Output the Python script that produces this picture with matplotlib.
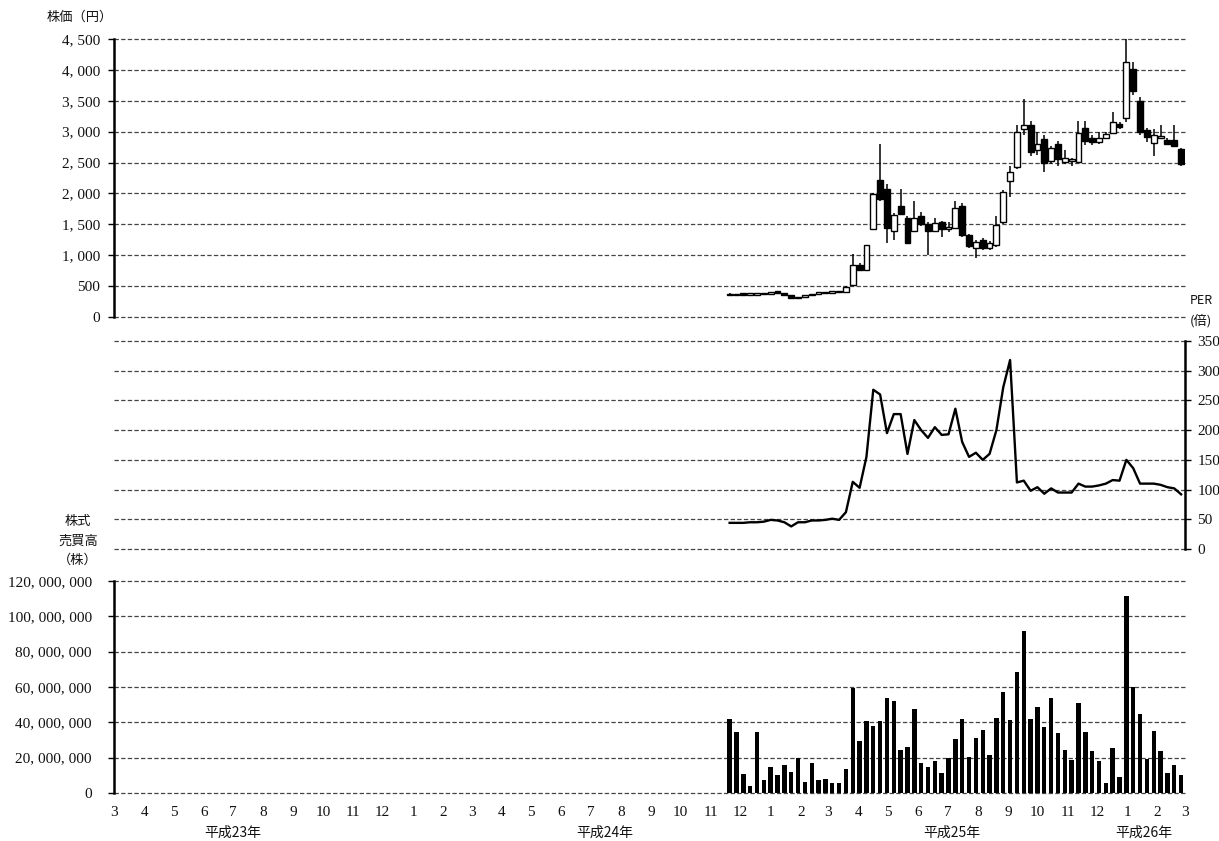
import datetime as dt
import numpy as np
import pandas as pd
import matplotlib
matplotlib.use("Agg")
import matplotlib.pyplot as plt
import matplotlib.dates as mdates
import matplotlib.transforms as mtransforms

# ---------------- data ----------------
weeks = pd.date_range("2012-11-20", periods=67, freq="7D")

open_ = [380, 355, 362, 360, 362, 365, 380, 392, 388, 350, 305, 325, 350, 372, 385, 392, 402, 404,
         512, 835, 755, 1430, 2210, 2073, 1400, 1800, 1595, 1400, 1627, 1508, 1400, 1535, 1430, 1445,
         1800, 1320, 1110, 1250, 1120, 1160, 1535, 2208, 2420, 3050, 3100, 2700, 2880, 2520, 2800,
         2510, 2530, 2510, 3060, 2900, 2840, 2900, 2980, 3130, 3220, 4010, 3500, 3030, 2820, 2900,
         2870, 2860, 2720]
high = [390, 370, 372, 370, 372, 385, 400, 405, 392, 355, 330, 355, 378, 392, 398, 410, 412, 500,
        1013, 870, 1170, 2000, 2800, 2150, 1680, 2073, 1640, 1880, 1700, 1540, 1600, 1560, 1540, 1885,
        1850, 1340, 1240, 1280, 1230, 1627, 2060, 2450, 3100, 3530, 3180, 2990, 2950, 2760, 2850,
        2700, 2580, 3180, 3180, 2950, 2990, 3000, 3313, 3150, 4520, 4130, 3560, 3060, 3050, 3100,
        2900, 3110, 2730]
low = [345, 350, 355, 352, 355, 360, 375, 380, 350, 295, 300, 320, 345, 365, 378, 388, 395, 395,
       500, 740, 740, 1420, 1880, 1190, 1250, 1650, 1180, 1380, 1480, 1000, 1380, 1293, 1380, 1440,
       1300, 1120, 958, 1080, 1090, 1140, 1500, 1947, 2400, 2950, 2600, 2620, 2340, 2480, 2450,
       2480, 2450, 2500, 2780, 2780, 2800, 2880, 2970, 3050, 3150, 3600, 2950, 2840, 2610, 2880,
       2780, 2750, 2450]
close = [350, 362, 360, 362, 365, 380, 392, 388, 360, 305, 325, 350, 372, 385, 392, 402, 405, 485,
         835, 754, 1158, 1997, 1918, 1440, 1650, 1670, 1190, 1600, 1508, 1400, 1520, 1430, 1460, 1760,
         1320, 1142, 1207, 1120, 1190, 1490, 2030, 2340, 3000, 3100, 2670, 2800, 2500, 2740, 2560,
         2580, 2545, 2980, 2850, 2830, 2900, 2960, 3150, 3080, 4120, 3660, 3000, 2920, 2950, 2920,
         2800, 2770, 2480]

per = [44, 44, 44, 45, 45, 46, 49, 48, 45, 38, 45, 45, 48, 48, 49, 51, 49, 62, 113, 103,
       155, 268, 260, 195, 227, 227, 160, 217, 200, 187, 205, 192, 193, 236, 180, 155, 162, 150,
       160, 200, 272, 318, 112, 115, 98, 104, 93, 102, 95, 95, 95, 110, 105, 105, 107, 110, 116,
       115, 150, 136, 110, 110, 110, 108, 104, 102, 92]

volume_m = [41.8, 34.7, 10.8, 3.7, 34.7, 7.4, 14.9, 10.4, 16.0, 11.7, 20.0, 6.1, 16.7, 7.4, 7.8,
            5.6, 5.6, 13.6, 59.6, 29.7, 40.5, 37.7, 40.9, 53.5, 52.2, 24.1, 26.0, 47.4, 17.1, 14.9,
            18.0, 11.1, 20.0, 30.3, 41.8, 20.4, 31.2, 35.7, 21.7, 42.3, 57.2, 41.2, 68.3, 91.9, 41.8,
            48.8, 37.3, 53.5, 33.8, 24.5, 18.9, 50.7, 34.7, 23.6, 18.2, 5.6, 25.6, 9.3, 111.4, 60.0,
            44.6, 19.5, 35.3, 23.8, 11.5, 16.0, 10.0]

month_ticks = pd.date_range("2011-03-01", "2014-03-01", freq="MS")
month_labels = [str(d.month) for d in month_ticks]
year_labels = ["平成23年", "平成24年", "平成25年", "平成26年"]
year_label_dates = ["2011-07-01", "2012-07-15", "2013-07-05", "2014-01-18"]

price_ticks = list(range(0, 4501, 500))
per_ticks = list(range(0, 351, 50))
vol_ticks = list(range(0, 120_000_001, 20_000_000))

# ---------------- style ----------------
JP = ["Noto Sans CJK JP", "DejaVu Sans"]
NUM = ["Liberation Serif", "DejaVu Serif"]
TXT = "#111111"
NUMSIZE = 11
JPSIZE = 9.5
GRID = dict(color="#454545", linestyle=(0, (3.5, 1.8)), linewidth=0.9, clip_on=False)

def fmt(v):
    return "{:,}".format(v).replace(",", ", ")

fig = plt.figure(figsize=(12.19, 8.41), dpi=100)
W, H = 1219, 841
L, R = 114 / W, 1185 / W

def box(top, bottom):
    return [L, 1 - bottom / H, R - L, (bottom - top) / H]

ax1 = fig.add_axes(box(39, 317))
ax2 = fig.add_axes(box(341, 549))
ax3 = fig.add_axes(box(581, 793))

x = mdates.date2num(weeks.to_pydatetime())
xmin = mdates.date2num(dt.datetime(2011, 3, 1))
xmax = mdates.date2num(dt.datetime(2014, 3, 1))

o = np.array(open_, float); c = np.array(close, float)
h = np.array(high, float); lo = np.array(low, float)
up = c >= o

for ax in (ax1, ax2, ax3):
    ax.set_xlim(xmin, xmax)
    for s in ax.spines.values():
        s.set_visible(False)
    ax.set_xticks([])
    ax.set_facecolor("white")

# --- price candles ---
ax1.set_ylim(0, 4500)
for t in price_ticks:
    ax1.axhline(t, zorder=1, **GRID)
ax1.vlines(x, lo, h, color="black", lw=1.1, zorder=2)
ax1.bar(x[up], np.maximum(c - o, 25)[up], bottom=o[up], width=6, facecolor="white",
        edgecolor="black", linewidth=1.0, zorder=3)
ax1.bar(x[~up], np.maximum(o - c, 25)[~up], bottom=c[~up], width=6, facecolor="black",
        edgecolor="black", linewidth=1.0, zorder=3)
ax1.spines["left"].set_visible(True)
ax1.spines["left"].set_linewidth(1.8)
ax1.set_yticks(price_ticks)
ax1.set_yticklabels([fmt(t) for t in price_ticks], family=NUM, fontsize=NUMSIZE, color=TXT)
ax1.tick_params(axis="y", direction="out", length=4, width=1.0, pad=6)

# --- PER line ---
ax2.set_ylim(0, 350)
for t in per_ticks:
    ax2.axhline(t, zorder=1, **GRID)
ax2.plot(x, per, color="black", lw=1.7, zorder=3)
ax2.spines["right"].set_visible(True)
ax2.spines["right"].set_linewidth(1.8)
ax2.yaxis.tick_right()
ax2.set_yticks(per_ticks)
ax2.set_yticklabels([str(t) for t in per_ticks], family=NUM, fontsize=NUMSIZE, color=TXT)
ax2.tick_params(axis="y", direction="out", length=4, width=1.0, pad=5)

# --- volume bars ---
ax3.set_ylim(0, 120_000_000)
for t in vol_ticks:
    ax3.axhline(t, zorder=1, **GRID)
ax3.bar(x, np.array(volume_m) * 1e6, width=4.5, color="black", zorder=3)
ax3.spines["left"].set_visible(True)
ax3.spines["left"].set_linewidth(1.8)
ax3.set_yticks(vol_ticks)
ax3.set_yticklabels([fmt(t) for t in vol_ticks], family=NUM, fontsize=NUMSIZE, color=TXT)
ax3.tick_params(axis="y", direction="out", length=4, width=1.0, pad=12)
ax3.set_xticks(mdates.date2num(month_ticks.to_pydatetime()))
ax3.set_xticklabels(month_labels, family=NUM, fontsize=NUMSIZE, color=TXT)
ax3.tick_params(axis="x", length=0, pad=9)

trans = mtransforms.blended_transform_factory(ax3.transData, fig.transFigure)
for lab, d in zip(year_labels, year_label_dates):
    ax3.text(mdates.date2num(pd.Timestamp(d).to_pydatetime()), 1 - 833 / H, lab,
             transform=trans, ha="center", va="center", fontsize=10, family=JP, color=TXT)

# --- axis captions ---
fig.text(80 / W, 1 - 17 / H, "株価（円）", ha="center", va="center", fontsize=JPSIZE, family=JP, color=TXT)
fig.text(1201 / W, 1 - 301 / H, "PER", ha="center", va="center", fontsize=9, family=JP, color=TXT)
fig.text(1201 / W, 1 - 321 / H, "(倍)", ha="center", va="center", fontsize=JPSIZE, family=JP, color=TXT)
fig.text(78 / W, 1 - 521 / H, "株式", ha="center", va="center", fontsize=JPSIZE, family=JP, color=TXT)
fig.text(78 / W, 1 - 541 / H, "売買高", ha="center", va="center", fontsize=JPSIZE, family=JP, color=TXT)
fig.text(78 / W, 1 - 560 / H, "（株）", ha="center", va="center", fontsize=JPSIZE, family=JP, color=TXT)

fig.savefig("out.png", dpi=100, facecolor="white")
